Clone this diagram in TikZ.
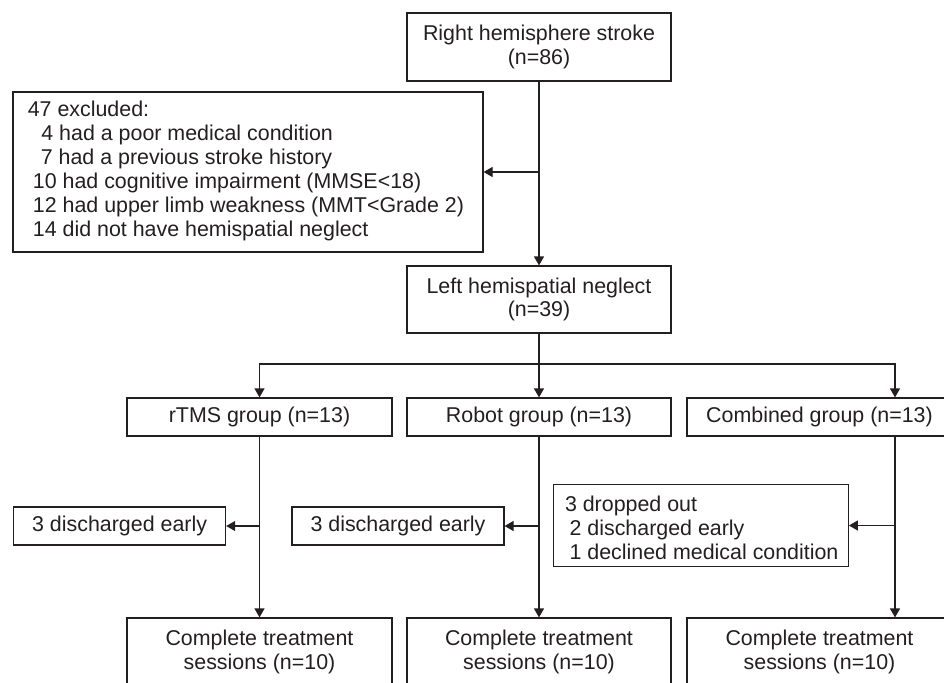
\documentclass[tikz,border=0pt]{standalone}
\usepackage{fontspec}
\setmainfont{Liberation Sans}
\usetikzlibrary{arrows.meta}
\definecolor{ink}{HTML}{231F20}
\begin{document}
\begin{tikzpicture}[x=1pt,y=-1pt,
  box/.style={draw=ink, line width=1.2pt, inner sep=0pt, text=ink, align=center,
    font=\fontsize{21.4}{23.9}\selectfont},
  txt/.style={inner sep=0pt, text=ink, align=left, anchor=west,
    font=\fontsize{21.4}{23.9}\selectfont},
  arr/.style={draw=ink, line width=1.2pt, -{Triangle[length=9pt,width=10pt]}},
  ln/.style={draw=ink, line width=1.2pt}]
\useasboundingbox (0,0) rectangle (944,682);
% boxes
\node[box, minimum width=264pt, minimum height=68pt] (top) at (539,47) {Right hemisphere stroke\\(n=86)};
\node[box, minimum width=470pt, minimum height=160pt] (excl) at (248,172) {};
\node[txt] (excltext) at (27.6,171)
  {47 excluded:\\
   \hspace*{13.6pt}4 had a poor medical condition\\
   \hspace*{13pt}7 had a previous stroke history\\
   \hspace*{5.1pt}10 had cognitive impairment (MMSE<18)\\
   \hspace*{5.1pt}12 had upper limb weakness (MMT<Grade 2)\\
   \hspace*{5.1pt}14 did not have hemispatial neglect};
\node[box, minimum width=264pt, minimum height=67pt] (left) at (539,299.5) {Left hemispatial neglect\\(n=39)};
\node[box, minimum width=265pt, minimum height=38pt] (rtms) at (259.5,417) {rTMS group (n=13)};
\node[box, minimum width=264pt, minimum height=38pt] (robot) at (539,417) {Robot group (n=13)};
\node[box, minimum width=265pt, minimum height=38pt] (comb) at (819.5,417) {Combined group (n=13)};
\node[box, minimum width=212pt, minimum height=38pt] (dis1) at (119.6,526) {3 discharged early};
\node[box, minimum width=212pt, minimum height=38pt] (dis2) at (398,526) {3 discharged early};
\node[box, minimum width=295pt, minimum height=82.5pt] (drop) at (700.8,525.5) {};
\node[txt] (droptext) at (564.8,527.5)
  {3 dropped out\\
   \hspace*{4.6pt}2 discharged early\\
   \hspace*{4.6pt}1 declined medical condition};
\node[box, minimum width=265pt, minimum height=68pt] (c1) at (259.5,652) {Complete treatment\\sessions (n=10)};
\node[box, minimum width=264pt, minimum height=68pt] (c2) at (539,652) {Complete treatment\\sessions (n=10)};
\node[box, minimum width=265pt, minimum height=68pt] (c3) at (819.5,652) {Complete treatment\\sessions (n=10)};
% connectors
\coordinate (br) at (539,364);
\coordinate (cl) at (895,364);
\draw[arr] (top.south) -- (left.north);
\draw[arr] (top.south |- excl.east) -- (excl.east);
\draw[ln] (left.south) -- (br);
\draw[arr] (br) -- (robot.north);
\draw[arr] (br) -| (rtms.north);
\draw[arr] (br) -- (cl) -- (cl |- comb.north);
\draw[arr] (rtms.south) -- (c1.north);
\draw[arr] (robot.south) -- (c2.north);
\draw[arr] (cl |- comb.south) -- (cl |- c3.north);
\draw[arr] (rtms.south |- dis1.east) -- (dis1.east);
\draw[arr] (robot.south |- dis2.east) -- (dis2.east);
\draw[arr] (cl |- drop.east) -- (drop.east);
\end{tikzpicture}
\end{document}
